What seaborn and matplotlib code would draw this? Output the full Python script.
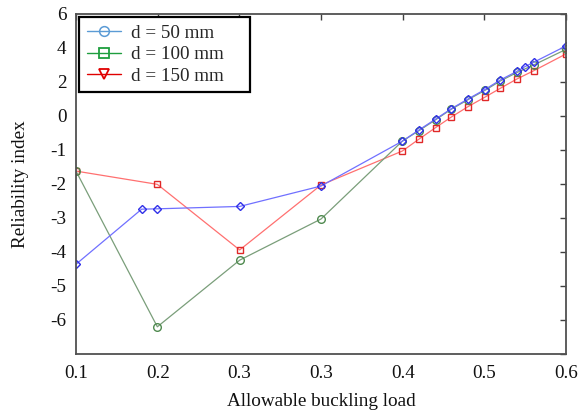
import numpy as np
import pandas as pd
import matplotlib
matplotlib.use("Agg")
import matplotlib.pyplot as plt
from matplotlib.lines import Line2D
import seaborn as sns

# ---- data ----
x_50 = [0.1, 0.167, 0.183, 0.267, 0.35, 0.433, 0.45, 0.467, 0.483, 0.5, 0.517, 0.533, 0.55, 0.558, 0.567, 0.6]
y_50 = [-4.36, -2.74, -2.73, -2.66, -2.06, -0.74, -0.41, -0.09, 0.43, 1.00, 1.55, 2.12, 2.63, 2.90, 3.16, 4.12]

x_100 = [0.1, 0.183, 0.267, 0.35, 0.433, 0.45, 0.467, 0.483, 0.5, 0.517, 0.533, 0.55, 0.567, 0.6]
y_100 = [-1.62, -6.20, -4.24, -3.03, -0.74, -0.43, -0.11, 0.40, 0.96, 1.50, 2.06, 2.56, 3.00, 3.92]

x_150 = [0.1, 0.183, 0.267, 0.35, 0.433, 0.45, 0.467, 0.483, 0.5, 0.517, 0.533, 0.55, 0.567, 0.6]
y_150 = [-1.62, -2.01, -3.94, -2.03, -1.03, -0.68, -0.34, -0.03, 0.55, 1.10, 1.63, 2.18, 2.66, 3.65]

labels = ["d = 50 mm", "d = 100 mm", "d = 150 mm"]
x_ticks = [0.1, 0.1833, 0.2667, 0.35, 0.4333, 0.5167, 0.6]
x_tick_labels = ["0.1", "0.2", "0.3", "0.3", "0.4", "0.5", "0.6"]
y_ticks = [-7, -6, -5, -4, -3, -2, -1, 0, 2, 4, 6]
y_tick_labels = ["", "-6", "-5", "-4", "-3", "-2", "-1", "0", "2", "4", "6"]

sns.set_style("white")
plt.rcParams["font.family"] = ["Liberation Serif", "DejaVu Serif"]

fig = plt.figure(figsize=(5.82, 4.12), dpi=100)
ax = fig.add_axes([76 / 582, 1 - 354 / 412, (566 - 76) / 582, (354 - 14) / 412])


def fwd(v):
    v = np.asarray(v, dtype=float)
    return np.where(v >= 0, v / 2.0, v)


def inv(p):
    p = np.asarray(p, dtype=float)
    return np.where(p >= 0, p * 2.0, p)


ax.set_yscale("function", functions=(fwd, inv))

df50 = pd.DataFrame({"x": x_50, "y": y_50})
df100 = pd.DataFrame({"x": x_100, "y": y_100})
df150 = pd.DataFrame({"x": x_150, "y": y_150})

sns.lineplot(data=df150, x="x", y="y", ax=ax, color="#ff7070", lw=0.9,
             marker="s", markersize=5, markerfacecolor="none",
             markeredgecolor="#e02828", markeredgewidth=1.0, legend=False)
sns.lineplot(data=df100, x="x", y="y", ax=ax, color="#7a9e7a", lw=0.9,
             marker="o", markersize=5.5, markerfacecolor="none",
             markeredgecolor="#4f8a4f", markeredgewidth=1.0, legend=False)
sns.lineplot(data=df50, x="x", y="y", ax=ax, color="#7070ff", lw=0.9,
             marker="D", markersize=4.5, markerfacecolor="none",
             markeredgecolor="#3030e8", markeredgewidth=1.0, legend=False)

ax.set_xlim(0.1, 0.6)
ax.set_ylim(-7, 6)
ax.set_xticks(x_ticks)
ax.set_xticklabels(x_tick_labels)
ax.set_yticks(y_ticks)
ax.set_yticklabels(y_tick_labels)
ax.minorticks_off()

ax.tick_params(axis="both", which="both", direction="in", length=4, width=1.0,
               color="#404040", labelsize=13.8, labelcolor="#111111",
               top=True, right=True, pad=7)
ax.tick_params(axis="x", pad=8)
for s in ax.spines.values():
    s.set_color("#505050")
    s.set_linewidth(1.3)
    s.set_visible(True)

ax.set_xlabel("Allowable buckling load", fontsize=13.8, color="#111111", labelpad=8)
ax.set_ylabel("Reliability index", fontsize=13.8, color="#111111", labelpad=15)

handles = [
    Line2D([], [], color="#5b9bd5", lw=1.0, marker="o", markersize=7,
           markerfacecolor="none", markeredgecolor="#5b9bd5", markeredgewidth=1.1),
    Line2D([], [], color="#1e9e3e", lw=1.0, marker="s", markersize=6.5,
           markerfacecolor="none", markeredgecolor="#1e9e3e", markeredgewidth=1.3),
    Line2D([], [], color="#e00000", lw=1.0, marker="v", markersize=7,
           markerfacecolor="none", markeredgecolor="#e00000", markeredgewidth=1.3),
]
leg = ax.legend(handles, labels, loc="upper left", mode="expand",
                bbox_to_anchor=(79 / 582, 1 - 90 / 412, (250 - 79) / 582, (90 - 17) / 412),
                bbox_transform=fig.transFigure,
                fontsize=13.8, frameon=True, fancybox=False, framealpha=1,
                edgecolor="black", borderpad=0.4, labelspacing=0.2,
                handlelength=1.8, handletextpad=0.5, borderaxespad=0)
leg.get_frame().set_linewidth(1.6)

fig.savefig("out.png", dpi=100)
